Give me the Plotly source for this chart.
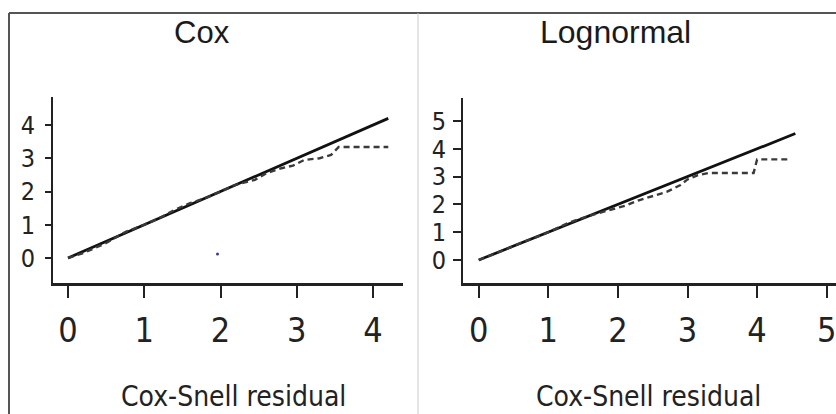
import plotly.graph_objects as go

W, H = 836, 414

# ---- data ----
cox_ref_x = [0, 4.2]
cox_ref_y = [0, 4.2]
cox_obs_x = [0, 0.2, 0.5, 0.75, 1.0, 1.2, 1.4, 1.6, 1.8, 2.0, 2.2, 2.45, 2.6, 2.8, 2.95, 3.1, 3.3, 3.45, 3.55, 4.2]
cox_obs_y = [0, 0.15, 0.45, 0.78, 1.0, 1.2, 1.45, 1.65, 1.8, 2.0, 2.2, 2.35, 2.55, 2.7, 2.78, 2.95, 3.0, 3.1, 3.34, 3.34]
cox_dot_x = [1.96]
cox_dot_y = [0.12]

logn_ref_x = [0, 4.55]
logn_ref_y = [0, 4.55]
logn_obs_x = [0, 0.5, 1.0, 1.3, 1.6, 1.85, 2.1, 2.3, 2.5, 2.7, 2.9, 3.0, 3.15, 3.3, 3.95, 4.0, 4.45]
logn_obs_y = [0, 0.5, 1.0, 1.35, 1.6, 1.78, 1.95, 2.15, 2.3, 2.45, 2.7, 2.9, 3.05, 3.13, 3.13, 3.62, 3.62]

cox_xticks = [0, 1, 2, 3, 4]
cox_yticks = [0, 1, 2, 3, 4]
logn_xticks = [0, 1, 2, 3, 4, 5]
logn_yticks = [0, 1, 2, 3, 4, 5]

panel_titles = ["Cox", "Lognormal"]
x_title = "Cox-Snell residual"

NARROW = "DejaVu Sans Condensed, Liberation Sans Narrow, Roboto, sans-serif"
SANS = "Liberation Sans, Arial, sans-serif"


def px(x):
    return x / W


def py(y):
    return 1 - y / H


fig = go.Figure()

solid = dict(color="#111111", width=2.8)
dashed = dict(color="#3a3a3a", width=2.4, dash="6px,4px")

fig.add_trace(go.Scatter(x=cox_ref_x, y=cox_ref_y, mode="lines", line=solid, xaxis="x", yaxis="y"))
fig.add_trace(go.Scatter(x=cox_obs_x, y=cox_obs_y, mode="lines", line=dashed, xaxis="x", yaxis="y"))
fig.add_trace(go.Scatter(x=cox_dot_x, y=cox_dot_y, mode="markers", marker=dict(color="#3a3a9a", size=3), xaxis="x", yaxis="y"))
fig.add_trace(go.Scatter(x=logn_ref_x, y=logn_ref_y, mode="lines", line=solid, xaxis="x2", yaxis="y2"))
fig.add_trace(go.Scatter(x=logn_obs_x, y=logn_obs_y, mode="lines", line=dashed, xaxis="x2", yaxis="y2"))

axis_common = dict(
    showline=True, linecolor="#222222", showgrid=False, zeroline=False,
    ticks="outside", tickcolor="#222222", tickwidth=2, fixedrange=True,
)

xfont = dict(family=NARROW, size=34, color="#222222")
yfont = dict(family=NARROW, size=25, color="#222222")
tfont = dict(family=NARROW, size=28, color="#222222")

fig.update_layout(
    width=W, height=H,
    margin=dict(l=0, r=0, t=0, b=0),
    paper_bgcolor="white", plot_bgcolor="white",
    showlegend=False,
    xaxis=dict(axis_common, domain=[px(53), px(403)], range=[-0.197, 4.393], anchor="y",
               tickvals=cox_xticks, ticktext=[str(v) for v in cox_xticks],
               ticklen=12, linewidth=3, tickfont=xfont, ticklabelstandoff=3),
    yaxis=dict(axis_common, domain=[py(283), py(97)], range=[-0.752, 4.842], anchor="x",
               tickvals=cox_yticks, ticktext=[str(v) for v in cox_yticks],
               ticklen=6, linewidth=2, tickfont=yfont, ticklabelstandoff=5),
    xaxis2=dict(axis_common, domain=[px(463), 1.0], range=[-0.226, 5.134], anchor="y2",
                tickvals=logn_xticks, ticktext=[str(v) for v in logn_xticks],
                ticklen=12, linewidth=3, tickfont=xfont, ticklabelstandoff=3,
                ticklabeloverflow="allow"),
    yaxis2=dict(axis_common, domain=[py(283), py(98)], range=[-0.827, 5.83], anchor="x2",
                tickvals=logn_yticks, ticktext=[str(v) for v in logn_yticks],
                ticklen=8, linewidth=2, tickfont=yfont, ticklabelstandoff=2),
)

annotations = [
    dict(text=panel_titles[0], x=px(202), y=py(32), xref="paper", yref="paper",
         showarrow=False, xanchor="center", yanchor="middle",
         font=dict(family=SANS, size=31, color="#1a1a1a")),
    dict(text=panel_titles[1], x=px(615), y=py(32), xref="paper", yref="paper",
         showarrow=False, xanchor="center", yanchor="middle",
         font=dict(family=SANS, size=32, color="#1a1a1a")),
    dict(text=x_title, x=px(233), y=py(396), xref="paper", yref="paper",
         showarrow=False, xanchor="center", yanchor="middle", font=tfont),
    dict(text=x_title, x=px(648), y=py(396), xref="paper", yref="paper",
         showarrow=False, xanchor="center", yanchor="middle", font=tfont),
]
fig.update_layout(annotations=annotations)

shapes = [
    dict(type="line", xref="paper", yref="paper", x0=px(9), x1=1.0, y0=py(13), y1=py(13),
         line=dict(color="#555555", width=2)),
    dict(type="line", xref="paper", yref="paper", x0=px(9), x1=px(9), y0=py(13), y1=0,
         line=dict(color="#555555", width=2)),
    dict(type="line", xref="paper", yref="paper", x0=px(418), x1=px(418), y0=py(13), y1=0,
         line=dict(color="#cccccc", width=1)),
]
fig.update_layout(shapes=shapes)

fig.write_html("out.html", config={"displayModeBar": False, "staticPlot": True})
